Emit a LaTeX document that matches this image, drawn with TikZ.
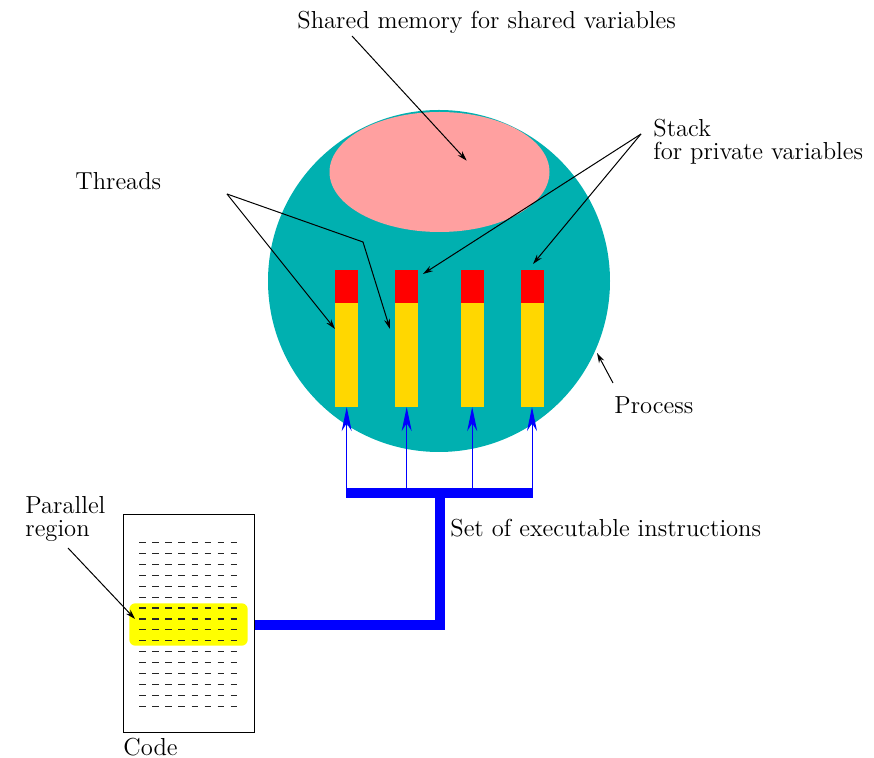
\documentclass[tikz,border=0pt]{standalone}
\usetikzlibrary{arrows.meta}

\definecolor{procteal}{RGB}{0,176,176}
\definecolor{shmpink}{RGB}{255,160,160}
\definecolor{stackred}{RGB}{255,0,0}
\definecolor{threadgold}{RGB}{255,215,0}
\definecolor{paryellow}{RGB}{255,255,0}

\tikzset{
  lbl/.style={font=\fontsize{12.3}{11.5}\selectfont, inner sep=0pt, anchor=west, align=left},
  pointer/.style={-{Stealth[length=5pt,width=3pt]}, line width=0.5pt},
  bus/.style={blue, line width=5pt},
  feed/.style={blue, line width=0.5pt, -{Stealth[length=12pt,width=5pt]}},
  threadbar/.style={fill=threadgold, inner sep=0pt, minimum width=11.5pt, minimum height=68.35pt},
  stackbox/.style={fill=stackred, inner sep=0pt, minimum width=11.5pt, minimum height=16.65pt, anchor=north},
}

\begin{document}
\begin{tikzpicture}[x=0.5pt,y=-0.5pt]
	\useasboundingbox (0,0) rectangle (874,758);
	
	% Prozess mit gemeinsamem Speicher
	\fill[procteal] (439,281) ellipse (171 and 171);
	\fill[shmpink] (439.5,172) ellipse (110 and 60);
	
	% Threads mit Stack
	\foreach \n/\x in {1/346.7,2/406.7,3/472.2,4/532}{
		\node[threadbar] (th\n) at (\x,338.35) {};
		\node[stackbox] (st\n) at (th\n.north) {};
		\coordinate (tap\n) at (\x,493);
	}
	
	% Code mit paralleler Region
	\node[draw, line width=0.5pt, inner sep=0pt, minimum width=65.35pt, minimum height=109pt] (code) at (188.65,624) {};
	\node[fill=paryellow, rounded corners=3pt, inner sep=0pt, minimum width=59.2pt, minimum height=21.2pt] (par) at (188.5,624.5) {};
	\foreach \i in {0,...,15}{
		\draw[black!85, line width=0.6pt, dash pattern=on 3.35pt off 3.18pt] (139.3,542.7+10.9*\i) -- (237.3,542.7+10.9*\i);
	}
	
	% Befehlsverteilung
	\coordinate (busL) at (346,493);
	\coordinate (busR) at (532.7,493);
	\coordinate (busM) at (440,493);
	\coordinate (busLow) at (440,625);
	\draw[bus] (busL) -- (busR);
	\draw[bus] (busM) -- (busLow) -- (code.east |- busLow);
	\foreach \n in {1,...,4}{
		\draw[feed] (tap\n) -- (th\n.south);
	}
	
	% Beschriftungen
	\node[lbl] (shm) at (297,22) {Shared memory for shared variables};
	\node[lbl] (thr) at (75,181) {Threads};
	\node[lbl] (stk) at (653,142) {Stack\\for private variables};
	\node[lbl] (proc) at (614,405) {Process};
	\node[lbl] (inst) at (450,528) {Set of executable instructions};
	\node[lbl] (preg) at (25,519) {Parallel\\region};
	\node[lbl] (codelbl) at (123,747) {Code};
	
	% Zeiger
	\coordinate (shmFrom) at (352,36);
	\coordinate (shmTo) at (466.7,160.7);
	\coordinate (thrFrom) at (227,194);
	\coordinate (thrBend) at (363,242);
	\coordinate (thrTo1) at (335,329);
	\coordinate (thrTo2) at (390,329);
	\coordinate (stkFrom) at (641,134);
	\coordinate (stkTo1) at (423,274);
	\coordinate (stkTo2) at (533,264);
	\coordinate (procFrom) at (613,383);
	\coordinate (procTo) at (597,353);
	\coordinate (pregFrom) at (68,548);
	\coordinate (pregTo) at (135,619);
	
	\draw[pointer] (shmFrom) -- (shmTo);
	\draw[pointer] (thrFrom) -- (thrTo1);
	\draw[pointer] (thrFrom) -- (thrBend) -- (thrTo2);
	\draw[pointer] (stkFrom) -- (stkTo1);
	\draw[pointer] (stkFrom) -- (stkTo2);
	\draw[pointer] (procFrom) -- (procTo);
	\draw[pointer] (pregFrom) -- (pregTo);
	
\end{tikzpicture}
\end{document}
